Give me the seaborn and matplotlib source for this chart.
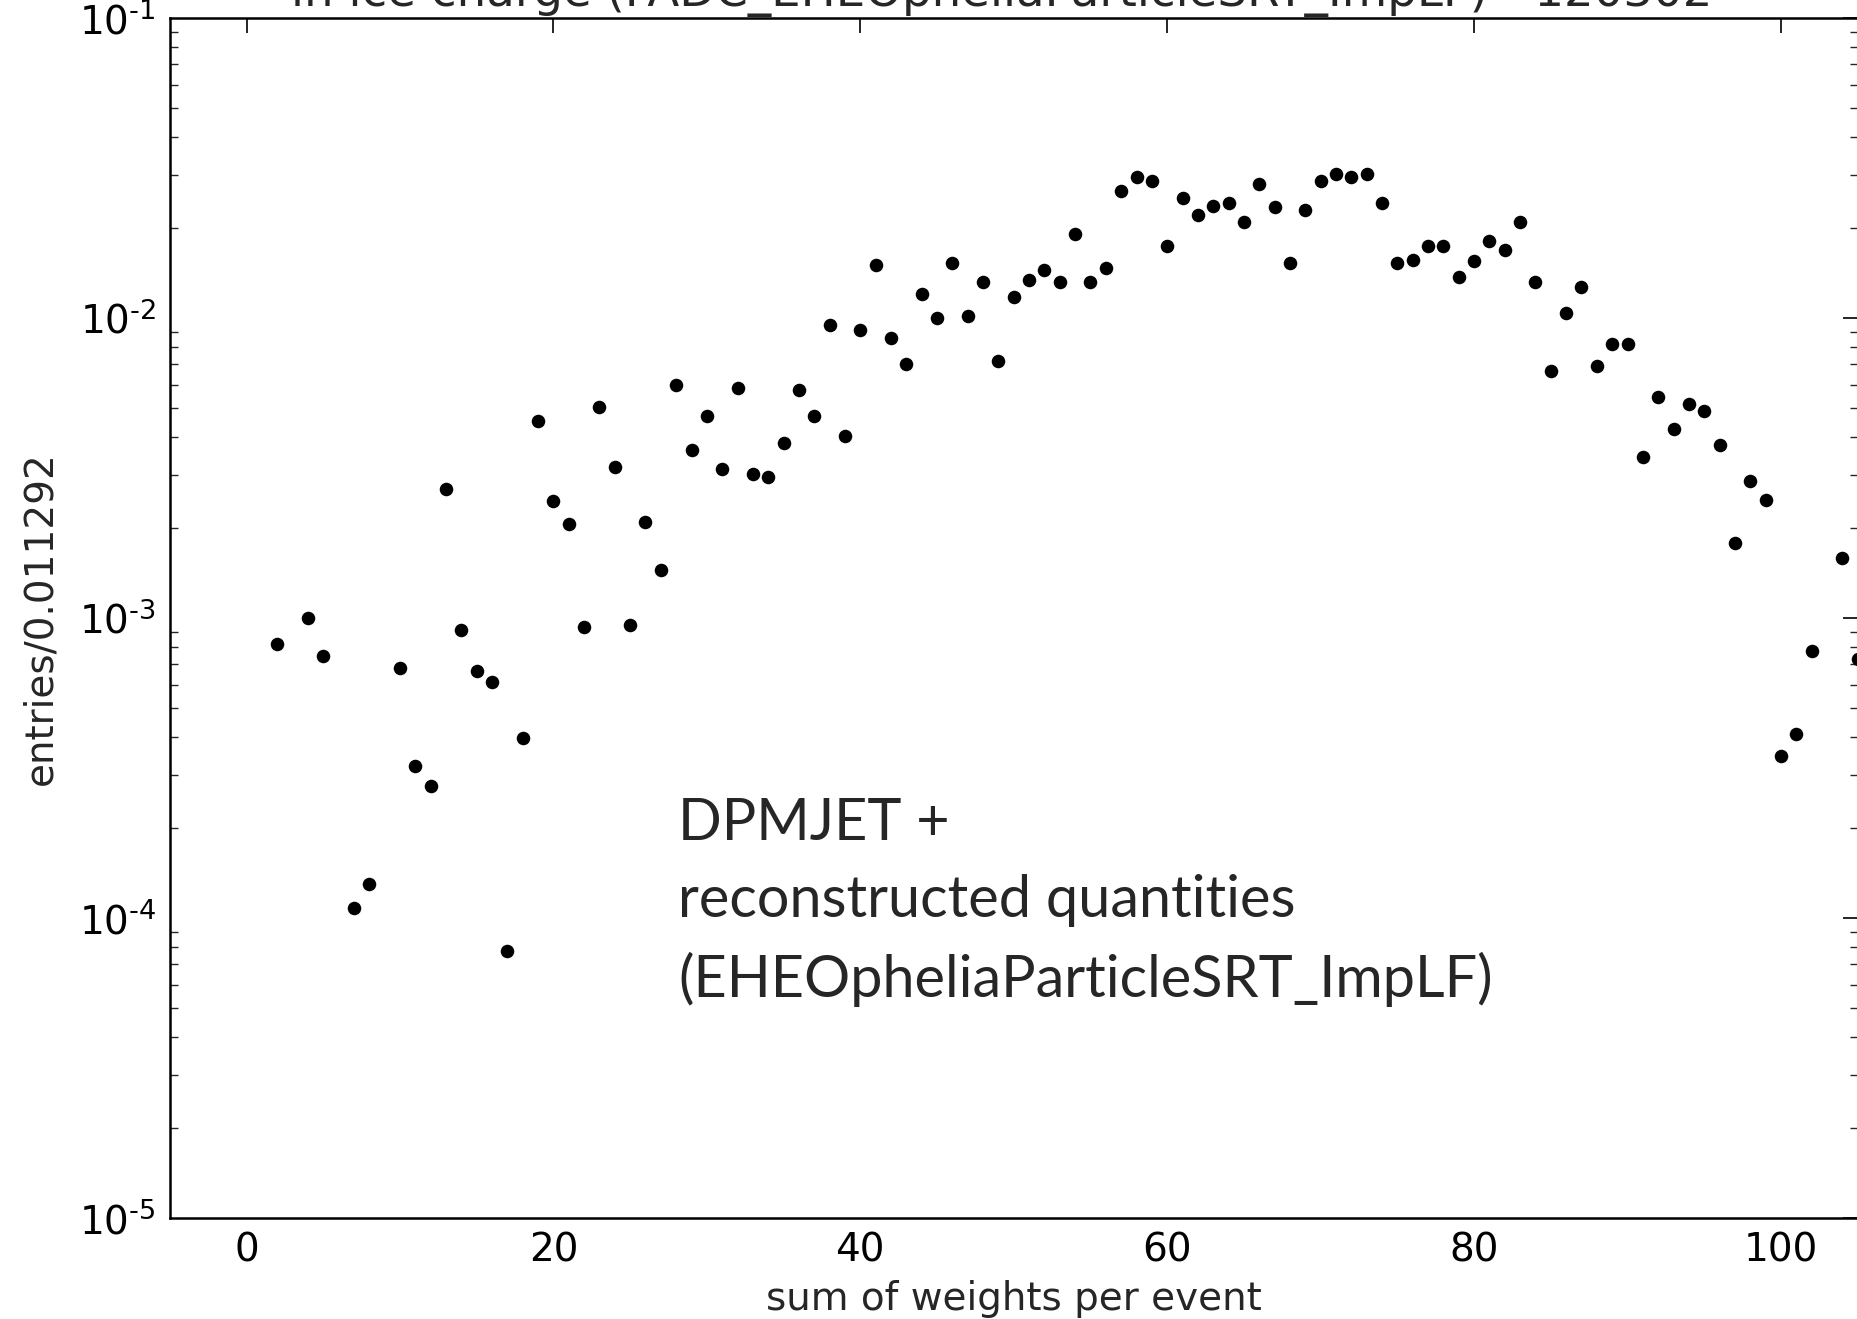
import numpy as np
import pandas as pd
import matplotlib
matplotlib.use("Agg")
import matplotlib.pyplot as plt
import seaborn as sns
from matplotlib.ticker import LogLocator, NullFormatter, FixedLocator, FuncFormatter

# ---- data ----
weights = [2, 4, 5, 7, 8, 10, 11, 12, 13, 14, 15, 16, 17, 18, 19, 20, 21, 22, 23, 24,
           25, 26, 27, 28, 29, 30, 31, 32, 33, 34, 35, 36, 37, 38, 39, 40, 41, 42, 43, 44,
           45, 46, 47, 48, 49, 50, 51, 52, 53, 54, 55, 56, 57, 58, 59, 60, 61, 62, 63, 64,
           65, 66, 67, 68, 69, 70, 71, 72, 73, 74, 75, 76, 77, 78, 79, 80, 81, 82, 83, 84,
           85, 86, 87, 88, 89, 90, 91, 92, 93, 94, 95, 96, 97, 98, 99, 100, 101, 102, 104, 105]
entries = [8.17e-4, 1.00e-3, 7.46e-4, 1.08e-4, 1.30e-4, 6.80e-4, 3.20e-4, 2.76e-4, 2.70e-3, 9.11e-4,
           6.67e-4, 6.10e-4, 7.77e-5, 3.99e-4, 4.53e-3, 2.46e-3, 2.05e-3, 9.31e-4, 5.05e-3, 3.19e-3,
           9.45e-4, 2.09e-3, 1.44e-3, 5.96e-3, 3.63e-3, 4.70e-3, 3.13e-3, 5.85e-3, 3.02e-3, 2.96e-3,
           3.84e-3, 5.74e-3, 4.70e-3, 9.46e-3, 4.05e-3, 9.10e-3, 1.497e-2, 8.60e-3, 7.03e-3, 1.199e-2,
           9.98e-3, 1.52e-2, 1.016e-2, 1.315e-2, 7.17e-3, 1.178e-2, 1.342e-2, 1.446e-2, 1.316e-2, 1.901e-2,
           1.318e-2, 1.471e-2, 2.653e-2, 2.958e-2, 2.852e-2, 1.733e-2, 2.513e-2, 2.198e-2, 2.366e-2, 2.423e-2,
           2.084e-2, 2.80e-2, 2.336e-2, 1.524e-2, 2.283e-2, 2.852e-2, 3.02e-2, 2.958e-2, 3.02e-2, 2.423e-2,
           1.524e-2, 1.557e-2, 1.734e-2, 1.734e-2, 1.367e-2, 1.552e-2, 1.802e-2, 1.684e-2, 2.091e-2, 1.318e-2,
           6.68e-3, 1.038e-2, 1.271e-2, 6.93e-3, 8.17e-3, 8.17e-3, 3.44e-3, 5.46e-3, 4.28e-3, 5.17e-3,
           4.88e-3, 3.78e-3, 1.78e-3, 2.87e-3, 2.47e-3, 3.46e-4, 4.09e-4, 7.75e-4, 1.59e-3, 7.31e-4]
x_ticks = [0, 20, 40, 60, 80, 100]
x_label = "sum of weights per event"
y_label = "entries/0.011292"
title_text = "in ice charge (FADC_EHEOpheliaParticleSRT_ImpLF) - 120302"
note_text = "DPMJET +\nreconstructed quantities\n(EHEOpheliaParticleSRT_ImpLF)"

df = pd.DataFrame({"weight": weights, "entries": entries})

sns.set_style("white")
plt.rcParams['font.family'] = ['DejaVu Sans']

W, H = 1858, 1319
fig = plt.figure(figsize=(W / 100, H / 100), dpi=100)
fig.patch.set_facecolor("white")
ax = fig.add_axes([169.8 / W, 1 - 1218 / H, (1857.7 - 169.8) / W, 1200 / H])

sns.scatterplot(data=df, x="weight", y="entries", color="black", s=95,
                linewidth=0, ax=ax, legend=False)

ax.set_yscale("log")
ax.set_ylim(1e-5, 1e-1)
ax.set_xlim(-5, 105)
ax.xaxis.set_major_locator(FixedLocator(x_ticks))
ax.yaxis.set_major_locator(LogLocator(base=10, numticks=10))
ax.yaxis.set_minor_locator(LogLocator(base=10, subs=np.arange(2, 10), numticks=10))
ax.yaxis.set_minor_formatter(NullFormatter())
ax.yaxis.set_major_formatter(FuncFormatter(
    lambda v, p: r"$10^{\text{-}%d}$" % int(round(-np.log10(v)))))

for s in ax.spines.values():
    s.set_color("black")
    s.set_linewidth(1.8)

ax.tick_params(axis="both", which="major", direction="in", length=11, width=1.2,
               top=True, right=True, labelsize=28, colors="black", pad=10)
ax.tick_params(axis="y", which="minor", direction="in", length=6, width=1.0,
               left=True, right=True)

ax.set_xlabel(x_label, fontsize=28, labelpad=7)
ax.set_ylabel(y_label, fontsize=28, labelpad=14)

fig.text(0.539, 1 - 6 / H, title_text, ha="center", va="baseline", fontsize=33.6)

fig.text(678 / W, 1 - 797 / H, note_text, ha="left", va="top",
         fontsize=41.5, family=["Lato", "DejaVu Sans"], linespacing=1.55)

fig.savefig("out.png", dpi=100, facecolor="white")
